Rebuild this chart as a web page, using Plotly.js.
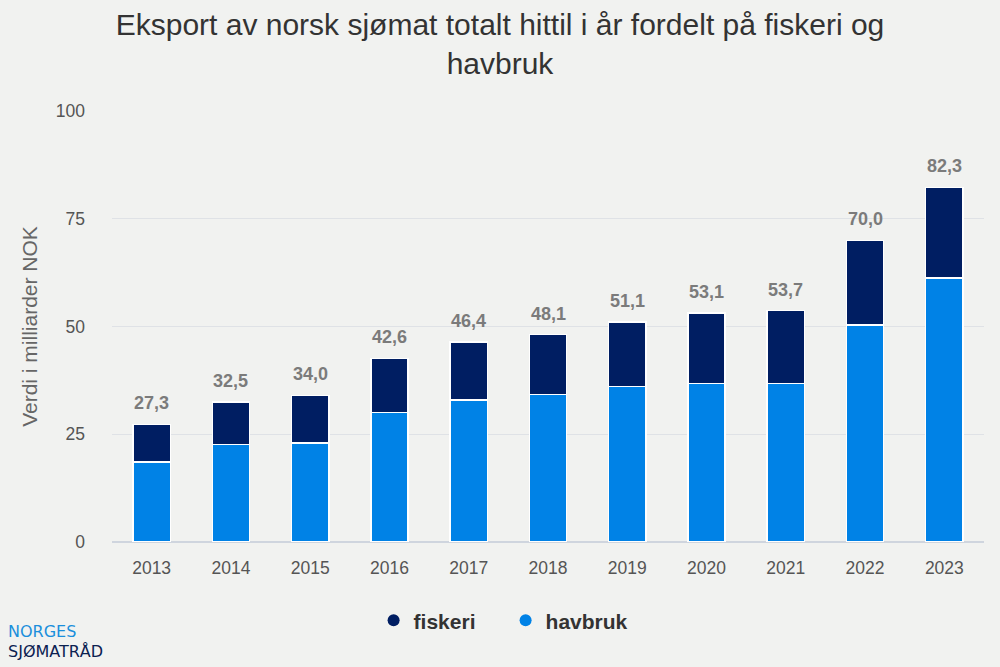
<!DOCTYPE html>
<html>
<head>
<meta charset="utf-8">
<script src="https://cdn.plot.ly/plotly-3.0.1.min.js"></script>
<style>
  html, body { margin: 0; padding: 0; background: #f1f2f0; }
  #chart { width: 1000px; height: 667px; }
</style>
</head>
<body>
<div id="chart"></div>
<script>
const years = ['2013', '2014', '2015', '2016', '2017', '2018', '2019', '2020', '2021', '2022', '2023'];
const havbruk = [18.6, 22.6, 23.0, 30.0, 33.0, 34.2, 36.1, 36.8, 36.8, 50.3, 61.2];
const fiskeri = [8.7, 9.9, 11.0, 12.6, 13.4, 13.9, 15.0, 16.3, 16.9, 19.7, 21.1];
const totals = [27.3, 32.5, 34.0, 42.6, 46.4, 48.1, 51.1, 53.1, 53.7, 70.0, 82.3];

const navy = '#001e62';
const blue = '#0082e6';
const font = 'Liberation Sans, Arial, sans-serif';

const traces = [
  {
    type: 'bar', name: 'havbruk', x: years, y: havbruk,
    marker: { color: blue, line: { color: '#ffffff', width: 1.5 } },
    showlegend: false, hoverinfo: 'x+y'
  },
  {
    type: 'bar', name: 'fiskeri', x: years, y: fiskeri,
    marker: { color: navy, line: { color: '#ffffff', width: 1.5 } },
    showlegend: false, hoverinfo: 'x+y'
  },
  // legend entries with round markers
  {
    type: 'scatter', mode: 'markers', name: 'fiskeri', x: [null], y: [null],
    marker: { color: navy, size: 20, symbol: 'circle' }
  },
  {
    type: 'scatter', mode: 'markers', name: 'havbruk', x: [null], y: [null],
    marker: { color: blue, size: 20, symbol: 'circle' }
  }
];

// total labels above each bar (x as category index)
const labels = totals.map((t, i) => ({
  x: i, y: t, xref: 'x', yref: 'y',
  text: t.toFixed(1).replace('.', ','),
  showarrow: false, yanchor: 'bottom', yshift: 9,
  font: { family: font, size: 18, color: '#7b7b7b', weight: 'bold' }
}));

const logo = [
  {
    xref: 'paper', yref: 'paper', x: -0.1216, y: -0.2065, xanchor: 'left', yanchor: 'middle',
    text: 'NORGES', showarrow: false,
    font: { family: 'DejaVu Sans, sans-serif', size: 16, color: '#1b8fdc' }
  },
  {
    xref: 'paper', yref: 'paper', x: -0.1216, y: -0.253, xanchor: 'left', yanchor: 'middle',
    text: 'SJØMATRÅD', showarrow: false,
    font: { family: 'DejaVu Sans, sans-serif', size: 16, color: '#0b2150' }
  }
];

const layout = {
  width: 1000,
  height: 667,
  barmode: 'stack',
  bargap: 0.53,
  paper_bgcolor: '#f1f2f0',
  plot_bgcolor: '#f1f2f0',
  font: { family: font, color: '#555555' },
  title: {
    text: 'Eksport av norsk sjømat totalt hittil i år fordelt på fiskeri og<br>havbruk',
    font: { family: font, size: 30, color: '#333333' },
    x: 0.5, xanchor: 'center', y: 0.947, yanchor: 'top'
  },
  margin: { l: 112, r: 16, t: 111, b: 125 },
  xaxis: {
    type: 'category',
    range: [-0.5, 10.5],
    tickfont: { family: font, size: 17.5, color: '#555555' },
    showgrid: false,
    showline: false,
    ticks: '',
    ticklabelstandoff: 13
  },
  yaxis: {
    range: [0, 100],
    tickvals: [0, 25, 50, 75, 100],
    tickfont: { family: font, size: 17.5, color: '#555555' },
    gridcolor: '#dfe2e6',
    gridwidth: 1,
    zeroline: true,
    zerolinecolor: '#cfd5de',
    zerolinewidth: 1.5,
    ticks: '',
    ticklabelstandoff: 26,
    title: {
      text: 'Verdi i milliarder NOK',
      font: { family: font, size: 21, color: '#666666' },
      standoff: 12
    }
  },
  legend: {
    orientation: 'h',
    traceorder: 'normal',
    x: 0.3, xanchor: 'left',
    y: -0.135, yanchor: 'top',
    entrywidth: 87,
    font: { family: font, size: 21, color: '#333333', weight: 'bold' },
    itemsizing: 'constant',
    bgcolor: 'rgba(0,0,0,0)'
  },
  annotations: labels.concat(logo)
};

Plotly.newPlot('chart', traces, layout, { displayModeBar: false, responsive: false });
</script>
</body>
</html>
